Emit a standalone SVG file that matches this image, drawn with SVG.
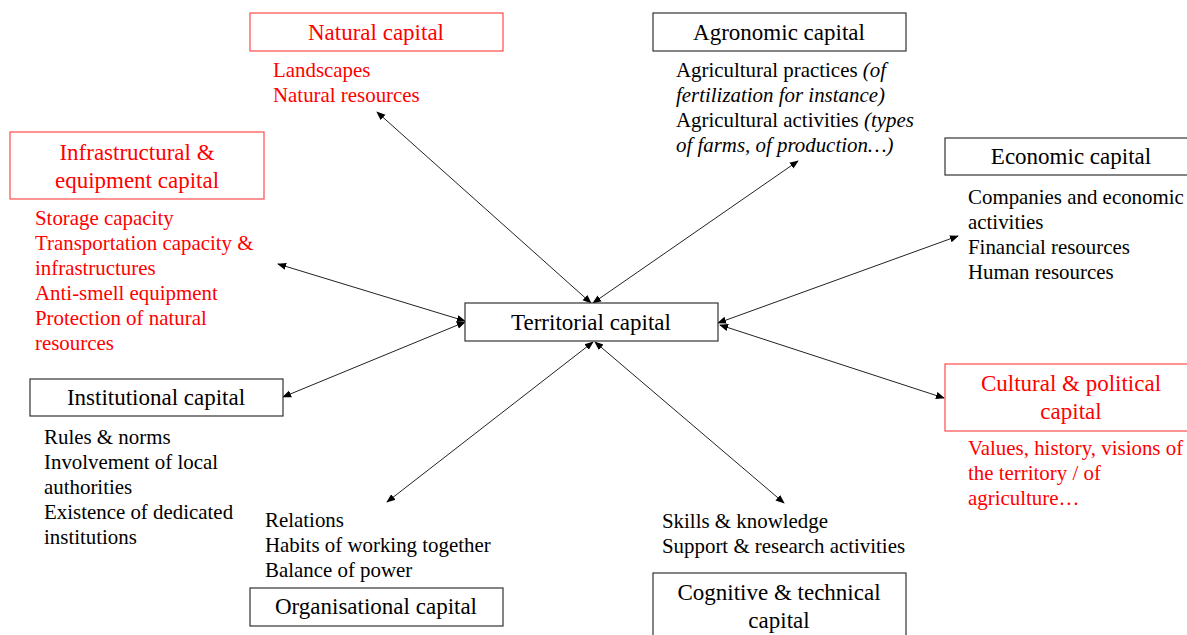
<svg xmlns="http://www.w3.org/2000/svg" width="1187" height="635" viewBox="0 0 1187 635" font-family="'Liberation Serif', 'DejaVu Serif', serif">
<style>
text{font-family:"Liberation Serif","DejaVu Serif",serif;}
.t{font-size:23px;text-anchor:middle;}
.l{font-size:20.9px;}
.red{fill:#ff0000;}
.blk{fill:#000000;}
.bx{fill:#ffffff;stroke:#333333;stroke-width:1.2;}
.rbx{fill:#ffffff;stroke:#ff4a4a;stroke-width:1.2;}
.c{stroke:#222222;stroke-width:1;fill:none;marker-start:url(#ah);marker-end:url(#ah);}
</style>
<defs>
<marker id="ah" viewBox="0 0 10 10" refX="9" refY="5" markerWidth="9" markerHeight="9" markerUnits="userSpaceOnUse" orient="auto-start-reverse">
<path d="M0,1 L10,5 L0,9 z" fill="#000000"/>
</marker>
</defs>
<rect width="1187" height="635" fill="#ffffff"/>
<g id="connectors">
<line class="c" x1="377" y1="112" x2="591" y2="303"/>
<line class="c" x1="798" y1="161" x2="593" y2="303"/>
<line class="c" x1="958" y1="236" x2="718" y2="323"/>
<line class="c" x1="720" y1="325" x2="944" y2="398"/>
<line class="c" x1="595" y1="342" x2="784" y2="503"/>
<line class="c" x1="593" y1="342" x2="387" y2="502"/>
<line class="c" x1="465" y1="322" x2="283" y2="397"/>
<line class="c" x1="465" y1="321" x2="278" y2="264"/>
</g>
<g id="territorial">
<rect class="bx" x="465" y="303" width="253" height="38"/>
<text class="t blk" x="591" y="330">Territorial capital</text>
</g>
<g id="natural">
<rect class="rbx" x="250" y="13" width="253" height="38"/>
<text class="t red" x="376" y="40">Natural capital</text>
<text class="l red" x="273" y="77">Landscapes</text>
<text class="l red" x="273" y="102">Natural resources</text>
</g>
<g id="agronomic">
<rect class="bx" x="653" y="13" width="253" height="38"/>
<text class="t blk" x="779" y="40">Agronomic capital</text>
<text class="l blk" x="676" y="77">Agricultural practices <tspan font-style="italic">(of</tspan></text>
<text class="l blk" x="676" y="102" font-style="italic">fertilization for instance)</text>
<text class="l blk" x="676" y="127">Agricultural activities <tspan font-style="italic">(types</tspan></text>
<text class="l blk" x="676" y="152" font-style="italic">of farms, of production…)</text>
</g>
<g id="infrastructural">
<rect class="rbx" x="10" y="132" width="254" height="67"/>
<text class="t red" x="137" y="160">Infrastructural &amp;</text>
<text class="t red" x="137" y="188">equipment capital</text>
<text class="l red" x="35" y="225">Storage capacity</text>
<text class="l red" x="35" y="250">Transportation capacity &amp;</text>
<text class="l red" x="35" y="275">infrastructures</text>
<text class="l red" x="35" y="300">Anti-smell equipment</text>
<text class="l red" x="35" y="325">Protection of natural</text>
<text class="l red" x="35" y="350">resources</text>
</g>
<g id="economic">
<rect class="bx" x="945" y="138" width="250" height="37"/>
<text class="t blk" x="1071" y="164">Economic capital</text>
<text class="l blk" x="968" y="204">Companies and economic</text>
<text class="l blk" x="968" y="229">activities</text>
<text class="l blk" x="968" y="254">Financial resources</text>
<text class="l blk" x="968" y="279">Human resources</text>
</g>
<g id="cultural">
<rect class="rbx" x="945" y="364" width="250" height="67"/>
<text class="t red" x="1071" y="391">Cultural &amp; political</text>
<text class="t red" x="1071" y="419">capital</text>
<text class="l red" x="968" y="455">Values, history, visions of</text>
<text class="l red" x="968" y="480">the territory / of</text>
<text class="l red" x="968" y="505">agriculture…</text>
</g>
<g id="institutional">
<rect class="bx" x="30" y="379" width="253" height="37"/>
<text class="t blk" x="156" y="405">Institutional capital</text>
<text class="l blk" x="44" y="444">Rules &amp; norms</text>
<text class="l blk" x="44" y="469">Involvement of local</text>
<text class="l blk" x="44" y="494">authorities</text>
<text class="l blk" x="44" y="519">Existence of dedicated</text>
<text class="l blk" x="44" y="544">institutions</text>
</g>
<g id="organisational">
<rect class="bx" x="250" y="588" width="253" height="38"/>
<text class="t blk" x="376" y="614">Organisational capital</text>
<text class="l blk" x="265" y="527">Relations</text>
<text class="l blk" x="265" y="552">Habits of working together</text>
<text class="l blk" x="265" y="577">Balance of power</text>
</g>
<g id="cognitive">
<rect class="bx" x="653" y="573" width="253" height="70"/>
<text class="t blk" x="779" y="600">Cognitive &amp; technical</text>
<text class="t blk" x="779" y="628">capital</text>
<text class="l blk" x="662" y="528">Skills &amp; knowledge</text>
<text class="l blk" x="662" y="553">Support &amp; research activities</text>
</g>
</svg>
